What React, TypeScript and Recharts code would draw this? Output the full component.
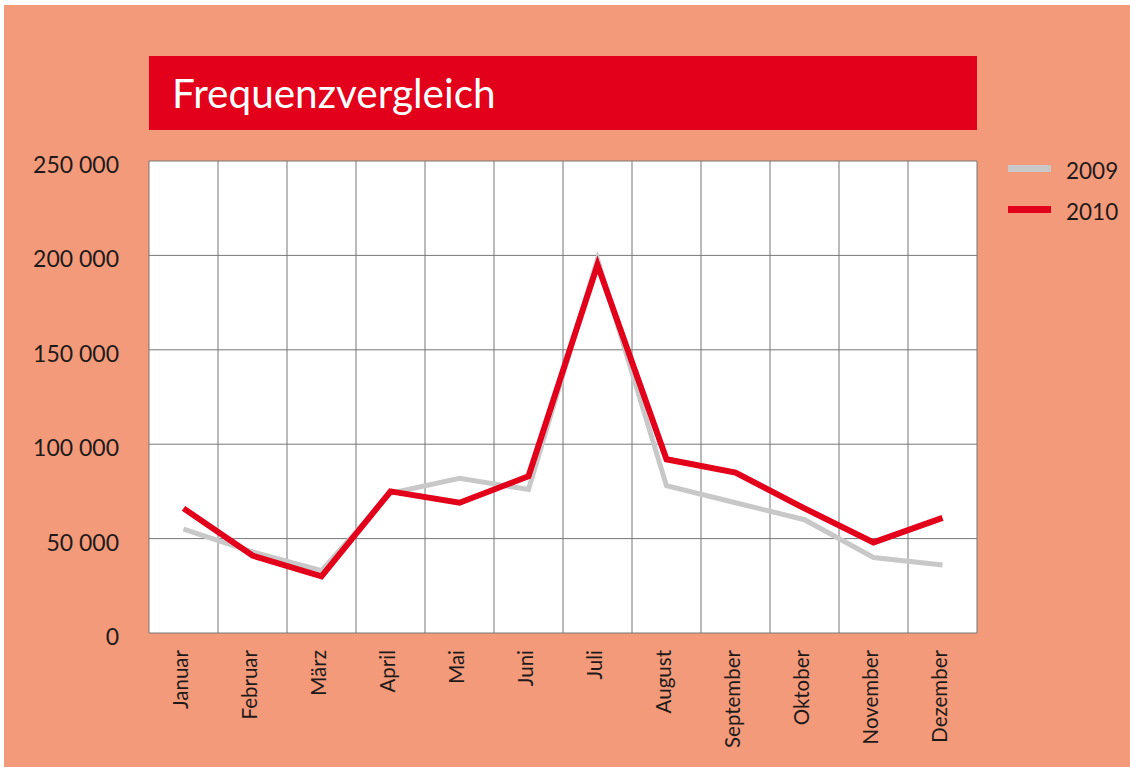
import React from "react";
import { LineChart, Line, XAxis, YAxis, CartesianGrid } from "recharts";

const months = ["Januar", "Februar", "März", "April", "Mai", "Juni", "Juli", "August", "September", "Oktober", "November", "Dezember"];
const values2009 = [55000, 43000, 33000, 74000, 82000, 76000, 198000, 78000, 69000, 60000, 40000, 36000];
const values2010 = [66000, 41000, 30000, 75000, 69000, 83000, 195000, 92000, 85000, 66000, 48000, 61000];
const yTicks = [0, 50000, 100000, 150000, 200000, 250000];
const seriesNames = ["2009", "2010"];
const title = "Frequenzvergleich";

const data = months.map((m, i) => ({ month: m, v2009: values2009[i], v2010: values2010[i] }));

const BG = "#F39A7A";
const RED = "#E2001A";
const GREY = "#C8C8C8";
const TEXT = "#1f1a1a";
const FONT = "Lato, 'Open Sans', sans-serif";

const fmt = (n: number) => String(n).replace(/\B(?=(\d{3})+(?!\d))/g, " ");

const YTick = (props: any) => {
  const { x, y, payload } = props;
  return (
    <text x={x - 30} y={y + 3} textAnchor="end" dominantBaseline="central" fill={TEXT} fontSize={23} fontFamily={FONT}>
      {fmt(payload.value)}
    </text>
  );
};

const XTick = (props: any) => {
  const { x, y, payload } = props;
  const ty = y + 17;
  const tx = x - 4;
  return (
    <text x={tx} y={ty} textAnchor="end" dominantBaseline="central" fill={TEXT} fontSize={20.5} fontFamily={FONT} transform={`rotate(-90 ${tx} ${ty})`}>
      {payload.value}
    </text>
  );
};

const LegendBox = () => {
  const colors = [GREY, RED];
  return (
    <div style={{ position: "absolute", left: 1004, top: 143, fontFamily: FONT }}>
      {seriesNames.map((n, i) => (
        <div key={n} style={{ display: "flex", alignItems: "center", height: 41 }}>
          <div style={{ width: 43, height: 7, background: colors[i], marginRight: 15 }} />
          <span style={{ fontSize: 22.5, color: TEXT, position: "relative", top: 2 }}>{n}</span>
        </div>
      ))}
    </div>
  );
};

export default function App() {
  return (
    <div style={{ position: "absolute", left: 0, top: 0, width: 1130, height: 767, background: BG, borderTop: "5px solid #fff", borderLeft: "4px solid #fff", boxSizing: "border-box" }}>
      <div style={{ position: "absolute", left: 145, top: 51, width: 828, height: 74, background: RED, color: "#fff", fontFamily: FONT, fontSize: 40.5, lineHeight: "74px", paddingLeft: 23, boxSizing: "border-box" }}>
        {title}
      </div>
      <LegendBox />
      <LineChart width={1126} height={762} data={data} margin={{ top: 156, left: 85, right: 153, bottom: 14 }}>
        <CartesianGrid
          fill="#fff"
          stroke="#777"
          strokeWidth={1}
          verticalCoordinatesGenerator={({ offset }: any) =>
            Array.from({ length: months.length + 1 }, (_, i) => offset.left + (i * offset.width) / months.length)
          }
        />
        <XAxis dataKey="month" scale="band" axisLine={false} tickLine={false} tickSize={0} tickMargin={0} height={120} interval={0} tick={<XTick />} />
        <YAxis domain={[0, 250000]} ticks={yTicks} axisLine={false} tickLine={false} tickSize={0} tickMargin={0} width={60} tick={<YTick />} />
        <Line dataKey="v2009" name="2009" stroke={GREY} strokeWidth={5} dot={false} type="linear" isAnimationActive={false} />
        <Line dataKey="v2010" name="2010" stroke={RED} strokeWidth={6} dot={false} type="linear" isAnimationActive={false} />
      </LineChart>
    </div>
  );
}
